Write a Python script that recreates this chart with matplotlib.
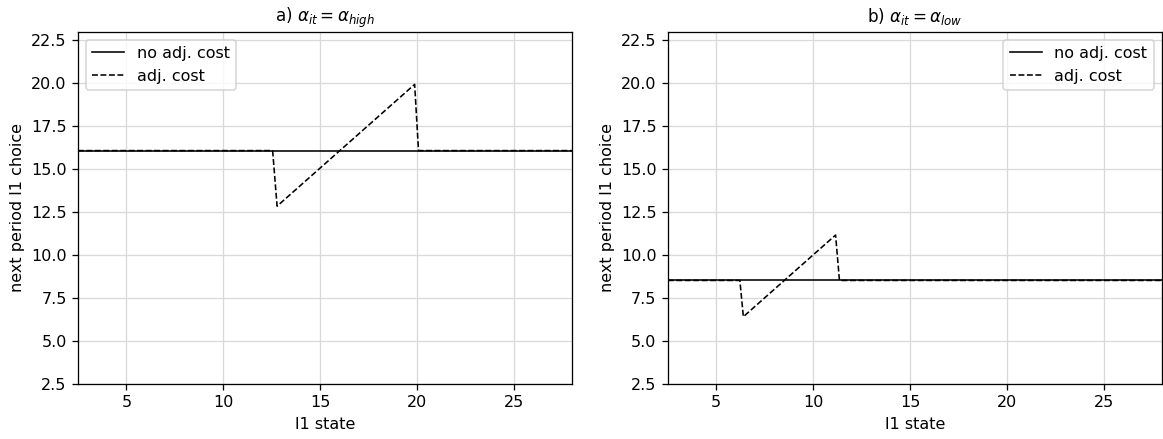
import matplotlib.pyplot as plt

# l1 state grid breakpoints and policies
state_high = [2.5, 12.55, 12.78, 19.88, 20.08, 28.0]
adj_high = [16.08, 16.08, 12.85, 19.93, 16.08, 16.08]
noadj_high = [16.08, 16.08]

state_low = [2.5, 6.22, 6.4, 11.16, 11.36, 28.0]
adj_low = [8.53, 8.53, 6.42, 11.17, 8.53, 8.53]
noadj_low = [8.53, 8.53]

titles = [r'a) $\alpha_{it} = \alpha_{high}$', r'b) $\alpha_{it} = \alpha_{low}$']
legend_locs = ['upper left', 'upper right']


def policy_panel(ax, states, adj, noadj, title, loc):
    ax.plot([states[0], states[-1]], noadj, color='black', lw=1.0,
            label='no adj. cost')
    ax.plot(states, adj, color='black', lw=1.0, ls='--', label='adj. cost')
    ax.set_xlim(2.5, 28)
    ax.set_ylim(2.5, 23)
    ax.set_yticks([2.5, 5, 7.5, 10, 12.5, 15, 17.5, 20, 22.5])
    ax.set_xlabel('l1 state')
    ax.set_ylabel('next period l1 choice')
    ax.set_title(title, fontsize=10.5)
    ax.grid(True, color='#d9d9d9')
    ax.set_axisbelow(True)
    ax.legend(loc=loc)


# drawn at a higher dpi so text comes out at the reference size
fig, axes = plt.subplots(1, 2, figsize=(11.63 / 1.15, 4.39 / 1.15), dpi=115)
policy_panel(axes[0], state_high, adj_high, noadj_high, titles[0],
             legend_locs[0])
policy_panel(axes[1], state_low, adj_low, noadj_low, titles[1],
             legend_locs[1])
plt.subplots_adjust(left=0.067, right=0.999, bottom=0.125, top=0.928,
                    wspace=0.194)
plt.savefig('out.png')
